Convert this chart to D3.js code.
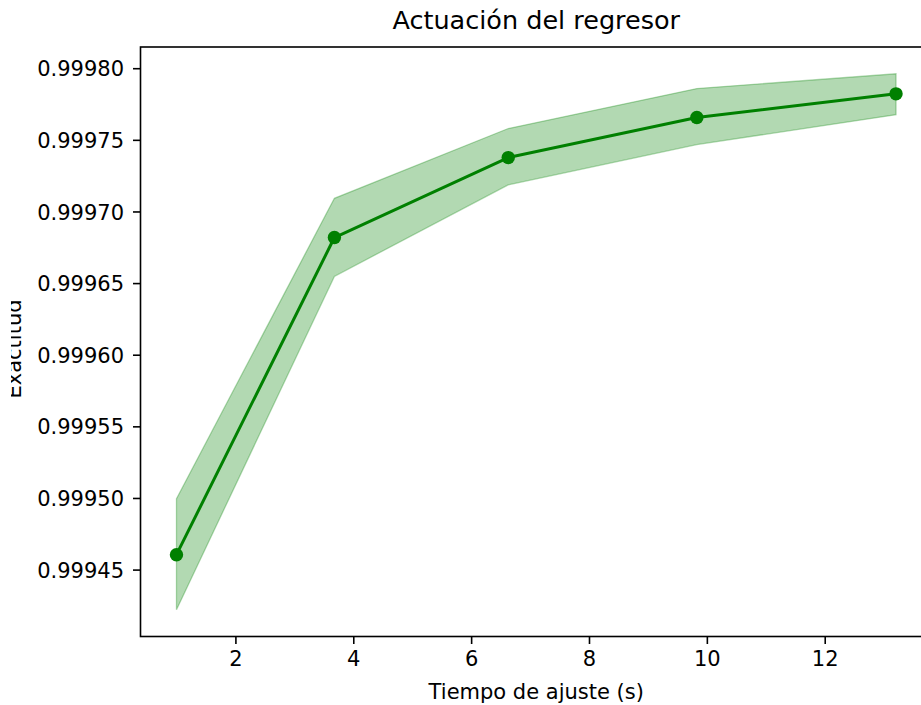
<!DOCTYPE html>
<html>
<head>
<meta charset="utf-8">
<script src="https://cdn.jsdelivr.net/npm/d3@7"></script>
<style>
  html, body { margin: 0; padding: 0; background: #fff; }
  svg { display: block; }
  text { font-family: "DejaVu Sans", sans-serif; fill: #000; }
</style>
</head>
<body>
<div id="chart"></div>
<script>
// Tiempo de ajuste (s) and mean accuracy with its ±1 std band
const fitTimes = [1.0, 3.68, 6.63, 9.83, 13.21];
const meanScore = [0.9994604, 0.9996818, 0.9997376, 0.9997656, 0.9997821];
const upperScore = [0.9994995, 0.9997092, 0.9997579, 0.9997858, 0.9997961];
const lowerScore = [0.9994220, 0.9996547, 0.9997186, 0.9997467, 0.9997675];

const xTicks = [2, 4, 6, 8, 10, 12];
const yTicks = [0.99945, 0.99950, 0.99955, 0.99960, 0.99965, 0.99970, 0.99975, 0.99980];

const title = "Actuación del regresor";
const xLabel = "Tiempo de ajuste (s)";
const yLabel = "Exactitud";

const W = 921, H = 705;
const plot = { left: 140.5, right: 932, top: 47, bottom: 636.5 };
const green = "#008000";
const tickFont = 21;

const svg = d3.select("#chart").append("svg")
  .attr("width", W).attr("height", H);

// 5% padding around the data, like the default autoscale margins
const xExt = d3.extent(fitTimes);
const xPad = (xExt[1] - xExt[0]) * 0.05;
const yMin = d3.min(lowerScore), yMax = d3.max(upperScore);
const yPad = (yMax - yMin) * 0.05;

const x = d3.scaleLinear()
  .domain([xExt[0] - xPad, xExt[1] + xPad])
  .range([plot.left, plot.right]);
const y = d3.scaleLinear()
  .domain([yMin - yPad, yMax + yPad])
  .range([plot.bottom, plot.top]);

const rows = fitTimes.map((t, i) => ({
  t, m: meanScore[i], lo: lowerScore[i], hi: upperScore[i]
}));

// Std band
const area = d3.area()
  .x(d => x(d.t))
  .y0(d => y(d.lo))
  .y1(d => y(d.hi));
svg.append("path")
  .datum(rows)
  .attr("d", area)
  .attr("fill", green)
  .attr("fill-opacity", 0.3)
  .attr("stroke", green)
  .attr("stroke-opacity", 0.3)
  .attr("stroke-width", 1.3);

// Mean line and markers
const line = d3.line().x(d => x(d.t)).y(d => y(d.m));
svg.append("path")
  .datum(rows)
  .attr("d", line)
  .attr("fill", "none")
  .attr("stroke", green)
  .attr("stroke-width", 3)
  .attr("stroke-linejoin", "round");
svg.selectAll("circle.pt")
  .data(rows)
  .join("circle")
  .attr("class", "pt")
  .attr("cx", d => x(d.t))
  .attr("cy", d => y(d.m))
  .attr("r", 6.7)
  .attr("fill", green);

// Axes
const xAxis = d3.axisBottom(x)
  .tickValues(xTicks)
  .tickFormat(d3.format("d"))
  .tickSize(7.5)
  .tickPadding(7);
const yAxis = d3.axisLeft(y)
  .tickValues(yTicks)
  .tickFormat(d3.format(".5f"))
  .tickSize(7.5)
  .tickPadding(9);

const gx = svg.append("g")
  .attr("transform", `translate(0,${plot.bottom})`)
  .call(xAxis);
const gy = svg.append("g")
  .attr("transform", `translate(${plot.left},0)`)
  .call(yAxis);

[gx, gy].forEach(g => {
  g.select(".domain").remove();
  g.selectAll(".tick line").attr("stroke", "#000").attr("stroke-width", 1.6);
  g.selectAll(".tick text")
    .attr("fill", "#000")
    .style("font-family", "'DejaVu Sans', sans-serif")
    .style("font-size", tickFont + "px");
});
gx.selectAll(".tick text").attr("dy", "0.71em");
gy.selectAll(".tick text").attr("dy", "0.36em");

// Spines
svg.append("rect")
  .attr("x", plot.left).attr("y", plot.top)
  .attr("width", plot.right - plot.left)
  .attr("height", plot.bottom - plot.top)
  .attr("fill", "none")
  .attr("stroke", "#000")
  .attr("stroke-width", 1.6);

// Title and axis labels
svg.append("text")
  .attr("x", (plot.left + plot.right) / 2)
  .attr("y", 29)
  .attr("text-anchor", "middle")
  .style("font-size", "25.5px")
  .text(title);

svg.append("text")
  .attr("x", (plot.left + plot.right) / 2)
  .attr("y", 699)
  .attr("text-anchor", "middle")
  .style("font-size", tickFont + "px")
  .text(xLabel);

// Y label sits partly beyond the left edge of the figure
svg.append("clipPath").attr("id", "ylab-clip")
  .append("rect").attr("x", 11).attr("y", 0).attr("width", 40).attr("height", H);
svg.append("g").attr("clip-path", "url(#ylab-clip)")
  .append("text")
  .attr("transform", `translate(21,349) rotate(-90)`)
  .attr("text-anchor", "middle")
  .style("font-size", tickFont + "px")
  .text(yLabel);
</script>
</body>
</html>
